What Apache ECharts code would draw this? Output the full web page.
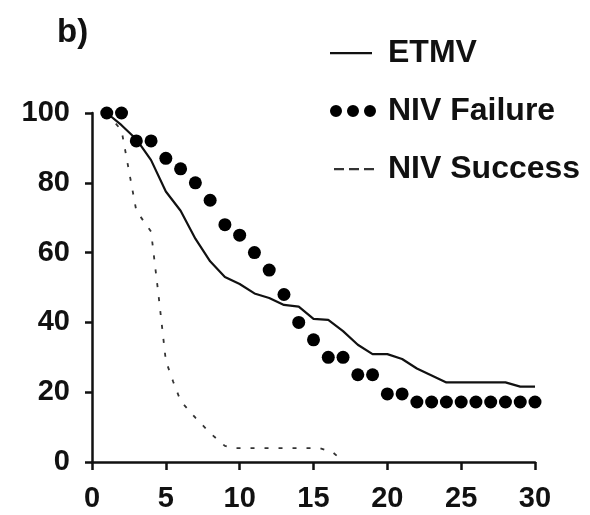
<!DOCTYPE html>
<html>
<head>
<meta charset="utf-8">
<script src="https://cdn.jsdelivr.net/npm/echarts@6/dist/echarts.min.js"></script>
<style>
  html, body { margin: 0; padding: 0; background: #fff; }
  #chart { width: 590px; height: 515px; }
</style>
</head>
<body>
<div id="chart"></div>
<script>
// Survival-style curves (percent) by day
const days = [1,2,3,4,5,6,7,8,9,10,11,12,13,14,15,16,17,18,19,20,21,22,23,24,25,26,27,28,29,30];
const etmv = [100,96.5,92.5,86.5,77.5,72,64,57.5,53,51,48.3,47,45,44.5,41,40.7,37.5,33.6,30.9,30.9,29.5,26.8,24.8,22.8,22.8,22.8,22.8,22.8,21.6,21.6];
const nivFailure = [100,100,92,92,87,84,80,75,68,65,60,55,48,40,35,30,30,25,25,19.5,19.5,17.2,17.2,17.2,17.2,17.2,17.2,17.2,17.2,17.2];
const successDays = [1,2,3,4,4.5,5,5.5,6,7,8,9,9.5,15.4,16.3,16.8];
const nivSuccess = [100,95,72,66,48,29,23,17.5,12.7,8.3,4.6,4,4,2.8,1];
const xTicks = { min: 0, max: 30, step: 5 };
const yTicks = { min: 0, max: 100, step: 20 };

const FONT = 'Liberation Sans';
const ink = '#111';

const pairs = (xs, ys) => xs.map((x, i) => [x, ys[i]]);

// Legend glyphs: zero-size corner points fix the icon box so thin marks keep their shape
const iconLine = 'path://M0,0h0.01v0.01h-0.01z M0,5h42v2.2h-42z M46,12h-0.01v-0.01h0.01z';
const iconDots = 'path://M0,6a6,6 0 1,0 12,0a6,6 0 1,0 -12,0z M17,6a6,6 0 1,0 12,0a6,6 0 1,0 -12,0z M34,6a6,6 0 1,0 12,0a6,6 0 1,0 -12,0z';
const iconDash = 'path://M0,0h0.01v0.01h-0.01z M4,5h10v2.2h-10z M19,5h10v2.2h-10z M34,5h10v2.2h-10z M46,12h-0.01v-0.01h0.01z';

const chart = echarts.init(document.getElementById('chart'), null, { renderer: 'canvas' });
chart.setOption({
  backgroundColor: '#fff',
  animation: false,
  title: {
    text: 'b)', left: 52, top: 11,
    textStyle: { fontFamily: FONT, fontSize: 33, fontWeight: 'bold', color: ink }
  },
  legend: {
    orient: 'vertical', left: 325, top: 31,
    itemWidth: 46, itemHeight: 12, itemGap: 24,
    itemStyle: { borderWidth: 0 },
    textStyle: { fontFamily: FONT, fontSize: 32, fontWeight: 'bold', color: ink, lineHeight: 34, padding: [0, 0, 0, 7] },
    data: [
      { name: 'ETMV', icon: iconLine },
      { name: 'NIV Failure', icon: iconDots },
      { name: 'NIV Success', icon: iconDash }
    ]
  },
  grid: { left: 92, right: 55, top: 113, bottom: 53 },
  xAxis: {
    type: 'value', min: xTicks.min, max: xTicks.max, interval: xTicks.step,
    splitLine: { show: false },
    axisLine: { lineStyle: { color: ink, width: 2.5 } },
    axisTick: { length: 8, lineStyle: { color: ink, width: 2.5 } },
    axisLabel: { margin: 22, fontFamily: FONT, fontSize: 29, fontWeight: 'bold', color: ink }
  },
  yAxis: {
    type: 'value', min: yTicks.min, max: yTicks.max, interval: yTicks.step,
    splitLine: { show: false },
    axisLine: { show: true, lineStyle: { color: ink, width: 2.5 } },
    axisTick: { show: true, length: 7, lineStyle: { color: ink, width: 2.5 } },
    axisLabel: { margin: 22, fontFamily: FONT, fontSize: 29, fontWeight: 'bold', color: ink }
  },
  series: [
    {
      name: 'ETMV', type: 'line', data: pairs(days, etmv),
      showSymbol: false, symbol: 'none', color: ink,
      lineStyle: { color: ink, width: 2.2 }, z: 3
    },
    {
      name: 'NIV Failure', type: 'scatter', data: pairs(days, nivFailure),
      symbol: 'circle', symbolSize: 13, color: '#000',
      itemStyle: { color: '#000', opacity: 1 }, z: 4
    },
    {
      name: 'NIV Success', type: 'line', data: pairs(successDays, nivSuccess),
      showSymbol: false, symbol: 'none', color: '#333',
      lineStyle: { color: '#333', width: 1.8, type: [4, 10] }, z: 2
    }
  ]
});
</script>
</body>
</html>
